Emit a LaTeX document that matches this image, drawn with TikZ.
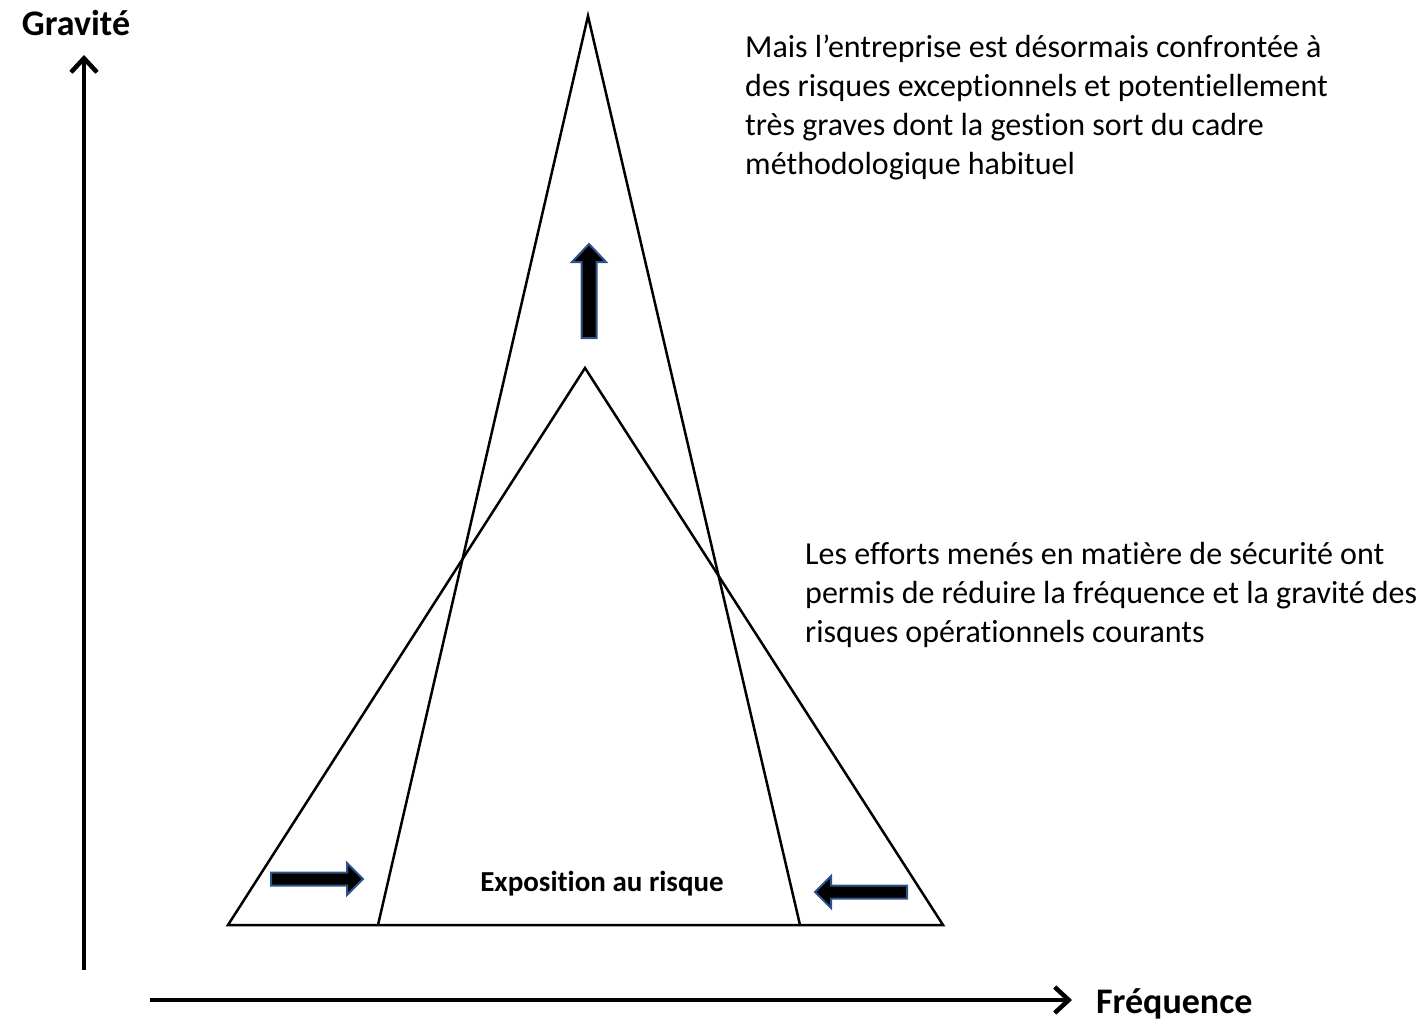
\documentclass[tikz,border=0pt]{standalone}
\usepackage{fontspec}
\setmainfont{Carlito}[Ligatures=NoCommon]
\usetikzlibrary{arrows.meta}
\definecolor{arrowedge}{HTML}{2F528F}
\begin{document}
\begin{tikzpicture}[x=1pt,y=-1pt,
  axis/.style={line width=4pt,-{Straight Barb[length=14pt,width=26pt,line width=4.5pt]}},
  tri/.style={line width=2.5pt,line join=miter},
  blockarrow/.style={fill=black,draw=arrowedge,line width=2pt,line join=miter},
  axislabel/.style={font=\fontsize{36}{42}\selectfont\bfseries,inner sep=0pt},
  note/.style={font=\fontsize{32}{39}\selectfont,align=left,inner sep=0pt,anchor=north west}]
\useasboundingbox (0,0) rectangle (1425,1022);
% axes
\coordinate (ybot) at (84,970);
\coordinate (ytop) at (84,55);
\coordinate (xleft) at (150,1000);
\coordinate (xright) at (1072,1000);
\draw[axis] (ybot) -- (ytop);
\draw[axis] (xleft) -- (xright);
\node[axislabel,anchor=base] (grav) at (76,36) {Gravité};
\node[axislabel,anchor=base west] (freq) at (1096,1013) {Fréquence};
% wide triangle: current operational risks
\coordinate (wl) at (228,925);
\coordinate (wr) at (943,925);
\coordinate (wt) at (585,368);
\draw[tri] (wl) -- (wt) -- (wr) -- cycle;
% narrow triangle: exceptional risks
\coordinate (nl) at (378,925);
\coordinate (nr) at (800,925);
\coordinate (nt) at (588,16);
\draw[tri] (nl) -- (nt) -- (nr);
% block arrows
\draw[blockarrow] (581.5,338) -- (581.5,262) -- (572,262) -- (589,244) -- (606,262) -- (596.5,262) -- (596.5,338) -- cycle;
\draw[blockarrow] (271,872.5) -- (347,872.5) -- (347,863) -- (363,879) -- (347,895) -- (347,885.5) -- (271,885.5) -- cycle;
\draw[blockarrow] (907,885.5) -- (831,885.5) -- (831,876) -- (815,892) -- (831,908) -- (831,898.5) -- (907,898.5) -- cycle;
% labels
\node[font=\fontsize{29}{34}\selectfont\bfseries,inner sep=0pt] (expo) at (602,884) {Exposition au risque};
\node[note] (top) at (745,35) {Mais l’entreprise est désormais confrontée à\\des risques exceptionnels et potentiellement\\très graves dont la gestion sort du cadre\\méthodologique habituel};
\node[note] (mid) at (805,542) {Les efforts menés en matière de sécurité ont\\permis de réduire la fréquence et la gravité des\\risques opérationnels courants};
\end{tikzpicture}
\end{document}
